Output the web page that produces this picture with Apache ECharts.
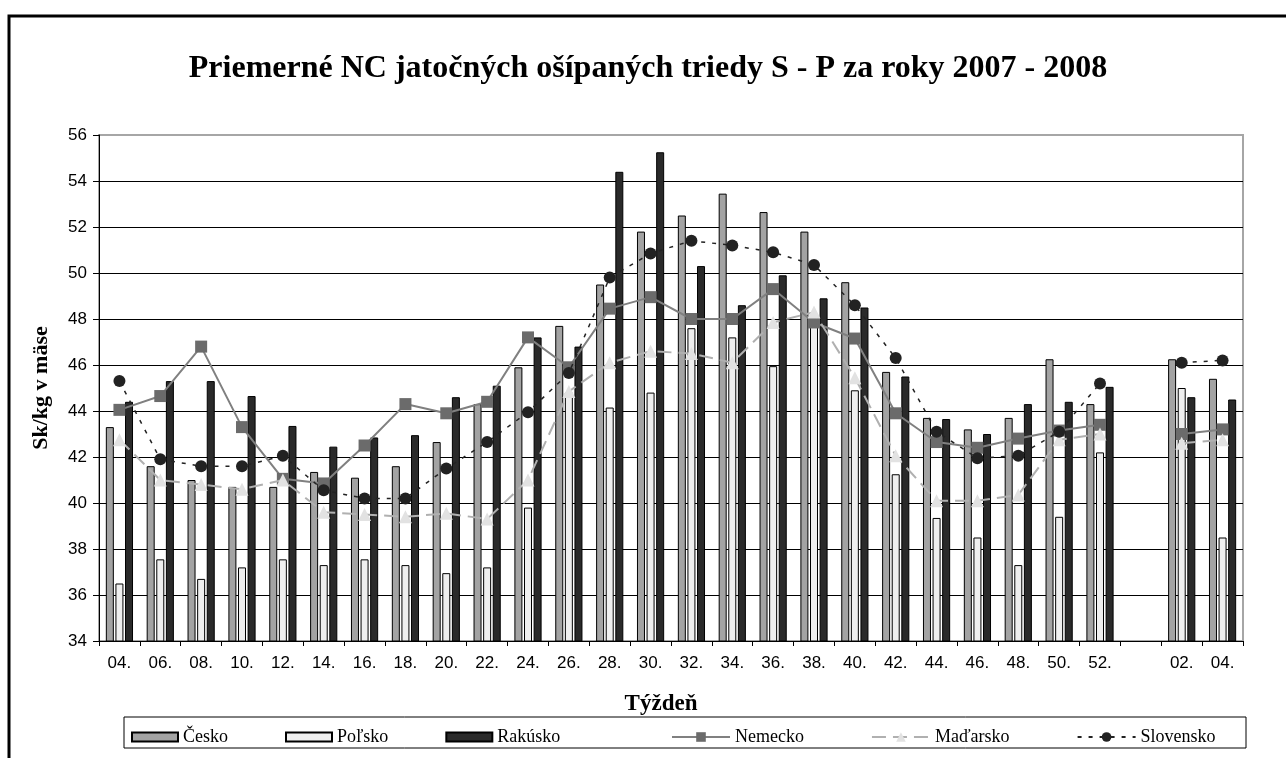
<!DOCTYPE html>
<html>
<head>
<meta charset="utf-8">
<title>Priemerné NC</title>
<script src="https://cdn.jsdelivr.net/npm/echarts@6/dist/echarts.min.js"></script>
<style>
    html, body { margin: 0; padding: 0; background: #fff; }
    #main { width: 1286px; height: 758px; }
</style>
</head>
<body>
<div id="main"></div>
<script>
// tyzdne 2007 - 2008, prazdny stlpec oddeluje roky
var weeks = ['04.', '06.', '08.', '10.', '12.', '14.', '16.', '18.', '20.', '22.', '24.', '26.', '28.',
    '30.', '32.', '34.', '36.', '38.', '40.', '42.', '44.', '46.', '48.', '50.', '52.', '', '02.', '04.'];

var cesko = [43.3, 41.6, 41.0, 40.7, 40.7, 41.35, 41.1, 41.6, 42.65, 44.3, 45.9, 47.7, 49.5, 51.8,
    52.5, 53.45, 52.65, 51.8, 49.6, 45.7, 43.7, 43.2, 43.7, 46.25, 44.3, null, 46.25, 45.4];
var polsko = [36.5, 37.55, 36.7, 37.2, 37.55, 37.3, 37.55, 37.3, 36.95, 37.2, 39.8, 44.8, 44.15, 44.8,
    47.6, 47.2, 45.95, 47.8, 44.9, 41.25, 39.35, 38.5, 37.3, 39.4, 42.2, null, 45.0, 38.5];
var rakusko = [44.4, 45.3, 45.3, 44.65, 43.35, 42.45, 42.85, 42.95, 44.6, 45.1, 47.2, 46.8, 54.4, 55.25,
    50.3, 48.6, 49.9, 48.9, 48.5, 45.5, 43.65, 43.0, 44.3, 44.4, 45.05, null, 44.6, 44.5];
var nemecko = [44.05, 44.65, 46.8, 43.3, 41.05, 40.85, 42.5, 44.3, 43.9, 44.4, 47.2, 45.9, 48.45, 48.95,
    48.0, 48.0, 49.3, 47.85, 47.15, 43.9, 42.65, 42.4, 42.8, 43.15, 43.4, null, 43.0, 43.2];
var madarsko = [42.75, 41.0, 40.8, 40.6, 41.0, 39.6, 39.5, 39.4, 39.55, 39.3, 41.0, 44.85, 46.1, 46.6,
    46.5, 46.1, 47.85, 48.3, 45.45, 42.05, 40.1, 40.1, 40.35, 42.75, 43.0, null, 42.6, 42.75];
var slovensko = [45.3, 41.9, 41.6, 41.6, 42.05, 40.55, 40.2, 40.2, 41.5, 42.65, 43.95, 45.65, 49.8, 50.85,
    51.4, 51.2, 50.9, 50.35, 48.6, 46.3, 43.1, 41.95, 42.05, 43.1, 45.2, null, 46.1, 46.2];

var serif = '"Liberation Serif", "Times New Roman", serif';
var sans = '"Liberation Sans", Arial, sans-serif';

// mriezka: posledna ciara (56) je siva ako okraj grafu
var gridColors = [];
for (var i = 0; i < 11; i++) {
    gridColors.push('#000');
}
gridColors.push('#a6a6a6');

function barSerie(name, data, color) {
    return {
        name: name,
        type: 'bar',
        data: data,
        barWidth: 8,
        barGap: '20%',
        itemStyle: {
            color: color,
            borderColor: '#000',
            borderWidth: 1
        }
    };
}

var legendText = {
    fontFamily: serif,
    fontSize: 18,
    color: '#000'
};

var myChart = echarts.init(document.getElementById('main'));
var option = {
    animation: false,
    backgroundColor: '#fff',
    title: {
        text: 'Priemerné NC jatočných ošípaných triedy S - P za roky 2007 - 2008',
        left: 643,
        textAlign: 'center',
        top: 48,
        textStyle: {
            fontFamily: serif,
            fontSize: 32,
            fontWeight: 'bold',
            color: '#000'
        }
    },
    legend: [{
        left: 131,
        top: 728,
        padding: 0,
        itemGap: 57,
        itemWidth: 46,
        itemHeight: 9,
        icon: 'rect',
        textStyle: legendText,
        data: ['Česko', 'Poľsko', 'Rakúsko']
    }, {
        left: 671,
        top: 728,
        padding: 0,
        itemGap: 67,
        itemWidth: 58,
        itemHeight: 12,
        textStyle: legendText,
        data: ['Nemecko', 'Maďarsko', 'Slovensko']
    }],
    grid: {
        left: 99,
        right: 43,
        top: 135,
        bottom: 117,
        show: true,
        borderColor: '#a6a6a6',
        borderWidth: 2
    },
    xAxis: {
        type: 'category',
        data: weeks,
        name: 'Týždeň',
        nameLocation: 'middle',
        nameGap: 52,
        nameTextStyle: {
            fontFamily: serif,
            fontSize: 23,
            fontWeight: 'bold',
            color: '#000',
            padding: [0, 20, 0, 0]
        },
        axisLine: {
            lineStyle: { color: '#000', width: 1 }
        },
        axisTick: {
            show: true,
            length: 5,
            lineStyle: { color: '#000' }
        },
        axisLabel: {
            interval: 0,
            margin: 14,
            fontFamily: sans,
            fontSize: 17,
            color: '#000'
        }
    },
    yAxis: {
        type: 'value',
        min: 34,
        max: 56,
        interval: 2,
        name: 'Sk/kg v mäse',
        nameLocation: 'middle',
        nameGap: 47,
        nameTextStyle: {
            fontFamily: serif,
            fontSize: 22,
            fontWeight: 'bold',
            color: '#000'
        },
        axisLine: {
            show: true,
            lineStyle: { color: '#000', width: 1 }
        },
        axisTick: {
            show: true,
            length: 6,
            lineStyle: { color: '#000' }
        },
        axisLabel: {
            margin: 12,
            fontFamily: sans,
            fontSize: 17,
            color: '#000'
        },
        splitLine: {
            show: true,
            lineStyle: { color: gridColors, width: 1.2 }
        }
    },
    graphic: [
        // vonkajsi ram (vidno len hornu a lavu stranu)
        {
            type: 'polyline',
            shape: { points: [[9, 758], [9, 16], [1286, 16]] },
            style: { stroke: '#000', lineWidth: 3, fill: null },
            z: 10
        },
        // ram legendy
        {
            type: 'rect',
            shape: { x: 124, y: 717, width: 1122, height: 31 },
            style: { stroke: '#000', lineWidth: 1, fill: null },
            z: 10
        }
    ],
    series: [
        barSerie('Česko', cesko, '#a3a3a3'),
        barSerie('Poľsko', polsko, '#efefef'),
        barSerie('Rakúsko', rakusko, '#2a2a2a'),
        {
            name: 'Nemecko',
            type: 'line',
            data: nemecko,
            symbol: 'rect',
            symbolSize: 12,
            itemStyle: { color: '#6b6b6b' },
            lineStyle: { color: '#808080', width: 2 },
            z: 3
        },
        {
            name: 'Maďarsko',
            type: 'line',
            data: madarsko,
            symbol: 'triangle',
            symbolSize: 13,
            itemStyle: { color: '#e2e2e2' },
            lineStyle: { color: '#b0b0b0', width: 2, type: [14, 7] },
            z: 4
        },
        {
            name: 'Slovensko',
            type: 'line',
            data: slovensko,
            symbol: 'circle',
            symbolSize: 12,
            itemStyle: { color: '#222' },
            lineStyle: { color: '#222', width: 1.5, type: [4, 7] },
            z: 5
        }
    ]
};
myChart.setOption(option);
</script>
</body>
</html>
